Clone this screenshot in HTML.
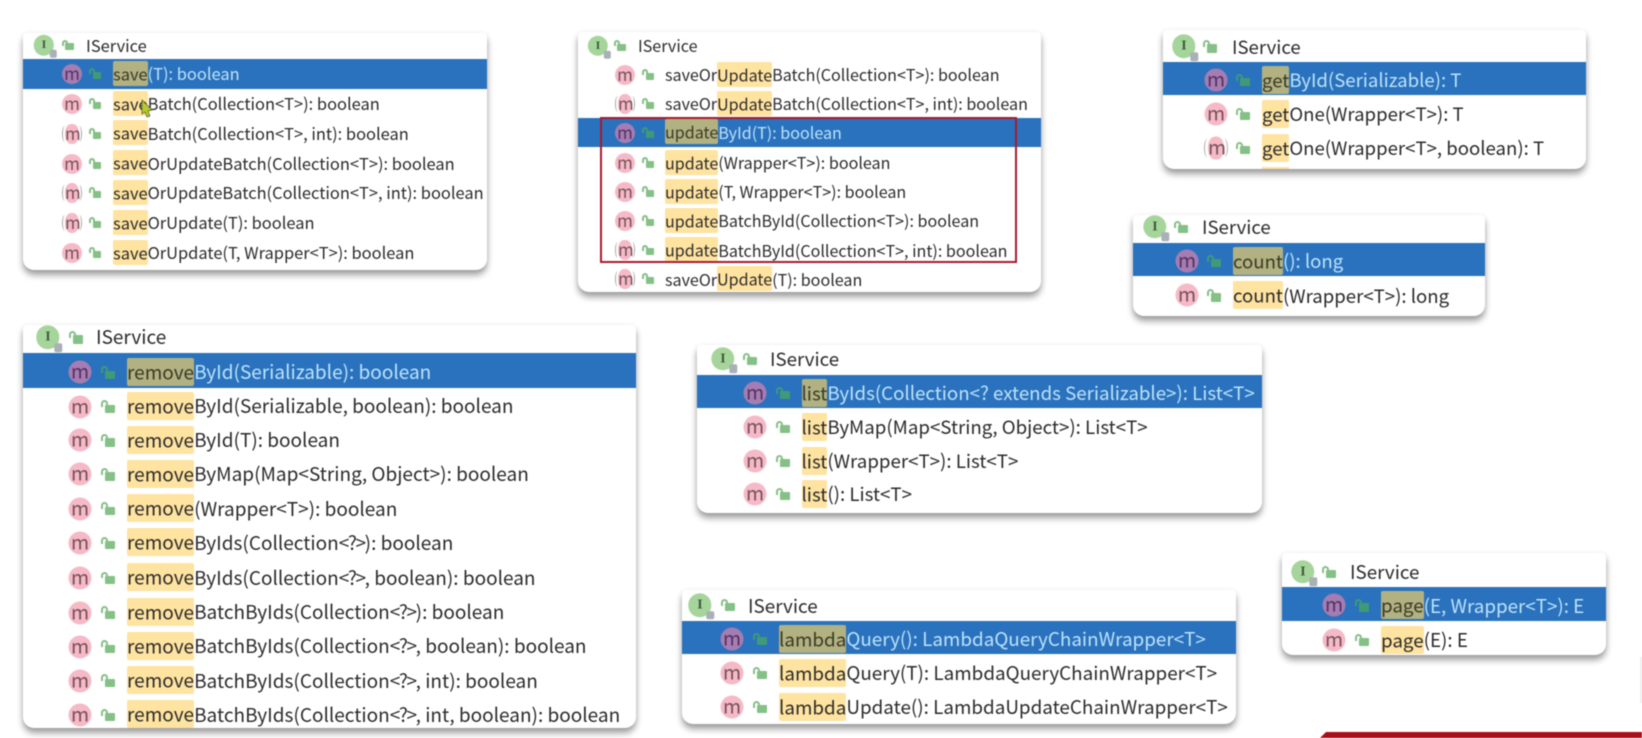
<!DOCTYPE html>
<html><head><meta charset="utf-8"><style>
html,body{margin:0;padding:0;width:1642px;height:738px;overflow:hidden;background:#fff}
body{position:relative;font-family:"Noto Sans CJK SC","Liberation Sans",sans-serif;color:#2b2b2b;filter:blur(.45px)}
.p{position:absolute;background:#fff;overflow:hidden;border-radius:4px 4px 11px 11px;box-shadow:0 5px 7px rgba(0,0,0,.38),0 0 5px rgba(0,0,0,.05);--o:0px}
.r{position:absolute;left:0;right:0;height:var(--h);line-height:var(--h);margin-top:calc(var(--h)/-2);white-space:nowrap}
.s{background:#2a72bd;color:#bde2fa}
.s b{background:#b1b181;color:#3a3a28}
.s .t{top:var(--o)}
.s .m,.s .l{margin-top:var(--o)}
.s .l{margin-top:calc(var(--o) - 2px)}
b{font-weight:400;background:#ffe3a0;border-radius:2px;padding:.5px 0}
em{font-style:normal;letter-spacing:-1.4px}
.t{position:absolute;left:var(--t)}
.ht{position:absolute;left:var(--ht)}
.m{position:absolute;left:var(--m);top:50%;width:var(--d);height:var(--d);transform:translate(-50%,-50%);border-radius:50%;background:#f6b9c7;color:#74525a;font-style:normal;font-size:calc(var(--d)*.85);line-height:calc(var(--d)*.88);text-align:center}
.s .m{background:#a57db3;color:#54325f}
.a{background:#f6b9c7;width:calc(var(--d)*.7);border-radius:45%}
.a:before,.a:after{content:"";position:absolute;top:calc(var(--d)*.1);height:calc(var(--d)*.8);width:calc(var(--d)*.34);box-sizing:border-box;border-radius:50%}
.a:before{left:calc(var(--d)*-.17);border-left:1.5px solid #a8a8a8}
.a:after{right:calc(var(--d)*-.17);border-right:1.5px solid #a8a8a8}
.l,.hl{position:absolute;top:50%;margin-top:-2px;width:calc(var(--d)*.44);height:calc(var(--d)*.36);background:#85c086;border-radius:1px}
.l{left:var(--l);margin-left:-2.5px}
.hl{left:var(--hl);margin-left:-3px}
.l:after,.hl:after{content:"";position:absolute;left:calc(var(--d)*-.16);top:calc(var(--d)*-.19);width:calc(var(--d)*.3);height:calc(var(--d)*.3);border:2px solid #85c086;border-bottom:0;border-radius:5px 5px 0 0;box-sizing:border-box;background:none}
.s .l{background:#3f9a76}
.s .l:after{border-color:#3f9a76}
.I{position:absolute;left:var(--i);top:50%;width:calc(var(--d)*1.02);height:calc(var(--d)*1.02);transform:translate(-50%,-50%);border-radius:50%;background:#a6d59c;color:#3f5a3a;font:700 calc(var(--d)*.6)/calc(var(--d)*.95) "Liberation Serif",serif;text-align:center}
.I:after{content:"";position:absolute;right:calc(var(--d)*-.12);bottom:calc(var(--d)*-.12);width:calc(var(--d)*.34);height:calc(var(--d)*.38);background:#a9b1b6;border-radius:2px}
</style></head><body>

<div class="p" style="left:23px;top:33px;width:464px;height:237px;font-size:16.45px;--h:29.6px;--d:20px;--i:21px;--hl:45px;--ht:63px;--m:49px;--l:72px;--t:90px">
<div class="r" style="top:12.3px"><i class="I">I</i><i class="hl"></i><span class="ht">IService</span></div>
<div class="r s" style="top:41px"><i class="m">m</i><i class="l"></i><span class="t"><b>save</b>(T): boolean</span></div>
<div class="r" style="top:71.2px"><i class="m">m</i><i class="l"></i><span class="t"><b>save</b>Batch(Collection&lt;T&gt;): boolean</span></div>
<div class="r" style="top:100.7px"><i class="m a">m</i><i class="l"></i><span class="t"><b>save</b>Batch(Collection&lt;T&gt;, int): boolean</span></div>
<div class="r" style="top:130.7px"><i class="m">m</i><i class="l"></i><span class="t"><b>save</b>OrUpdateBatch(Collection&lt;T&gt;): boolean</span></div>
<div class="r" style="top:160.2px"><i class="m a">m</i><i class="l"></i><span class="t"><b>save</b>OrUpdateBatch(Collection&lt;T&gt;, int): boolean</span></div>
<div class="r" style="top:189.9px"><i class="m a">m</i><i class="l"></i><span class="t"><b>save</b>OrUpdate(T): boolean</span></div>
<div class="r" style="top:220px"><i class="m">m</i><i class="l"></i><span class="t"><b>save</b>OrUpdate(T, Wrapper&lt;T&gt;): boolean</span></div>
</div>

<div class="p" style="left:578px;top:32px;width:463px;height:260px;font-size:16.1px;--h:29.2px;--d:20px;--i:20px;--hl:42px;--ht:60px;--m:47px;--l:70px;--t:87px">
<div class="r" style="top:14px"><i class="I">I</i><i class="hl"></i><span class="ht">IService</span></div>
<div class="r" style="top:43px"><i class="m">m</i><i class="l"></i><span class="t">saveOr<b>Update</b>Batch(Collection&lt;T&gt;): boolean</span></div>
<div class="r" style="top:72px"><i class="m a">m</i><i class="l"></i><span class="t">saveOr<b>Update</b>Batch(Collection&lt;T&gt;, int): boolean</span></div>
<div class="r s" style="top:100.5px"><i class="m">m</i><i class="l"></i><span class="t"><b>update</b>ById(T): boolean</span></div>
<div class="r" style="top:131px"><i class="m">m</i><i class="l"></i><span class="t"><b>update</b>(Wrapper&lt;T&gt;): boolean</span></div>
<div class="r" style="top:160px"><i class="m">m</i><i class="l"></i><span class="t"><b>update</b>(T, Wrapper&lt;T&gt;): boolean</span></div>
<div class="r" style="top:189px"><i class="m">m</i><i class="l"></i><span class="t"><b>update</b>BatchById(Collection&lt;T&gt;): boolean</span></div>
<div class="r" style="top:218.3px"><i class="m a">m</i><i class="l"></i><span class="t"><b>update</b>BatchById(Collection&lt;T&gt;, int): boolean</span></div>
<div class="r" style="top:247.2px"><i class="m a">m</i><i class="l"></i><span class="t">saveOr<b>Update</b>(T): boolean</span></div>
</div>
<div style="position:absolute;left:600px;top:117px;width:417px;height:145.5px;box-sizing:border-box;border:2px solid #a81a2e"></div>

<div class="p" style="left:1163px;top:30px;width:423px;height:139px;font-size:18.6px;--h:33.4px;--d:23px;--o:1.4px;--i:21px;--hl:47px;--ht:69px;--m:53px;--l:79px;--t:99px">
<div class="r" style="top:16.3px"><i class="I">I</i><i class="hl"></i><span class="ht">IService</span></div>
<div class="r s" style="top:48.6px"><i class="m">m</i><i class="l"></i><span class="t"><b>get</b>ById(Serializable): T</span></div>
<div class="r" style="top:84px"><i class="m">m</i><i class="l"></i><span class="t"><b>get</b>One(Wrapper&lt;T&gt;): T</span></div>
<div class="r" style="top:118px"><i class="m a">m</i><i class="l"></i><span class="t"><b>get</b>One(Wrapper&lt;T&gt;, boolean): T</span></div>
<div style="position:absolute;left:99px;top:137px;width:27px;height:3px;background:#ffe3a0"></div>
</div>

<div class="p" style="left:1133px;top:215px;width:352px;height:101px;font-size:18.6px;--h:33.4px;--d:23px;--o:1.4px;--i:22px;--hl:48px;--ht:69px;--m:54px;--l:80px;--t:100px">
<div class="r" style="top:12px"><i class="I">I</i><i class="hl"></i><span class="ht">IService</span></div>
<div class="r s" style="top:44.7px"><i class="m">m</i><i class="l"></i><span class="t"><b>count</b>(): long</span></div>
<div class="r" style="top:80.4px"><i class="m">m</i><i class="l"></i><span class="t"><b>count</b>(Wrapper&lt;T&gt;): long</span></div>
</div>

<div class="p" style="left:23px;top:325px;width:613px;height:403px;font-size:19px;--h:34.6px;--d:23px;--o:1.8px;--i:25px;--hl:53px;--ht:73px;--m:57px;--l:84px;--t:104px">
<div class="r" style="top:12.3px"><i class="I">I</i><i class="hl"></i><span class="ht">IService</span></div>
<div class="r s" style="top:45.7px"><i class="m">m</i><i class="l"></i><span class="t"><b>remove</b>ById(Serializable): boolean</span></div>
<div class="r" style="top:81.6px"><i class="m">m</i><i class="l"></i><span class="t"><b>remove</b>ById(Serializable, boolean): boolean</span></div>
<div class="r" style="top:115.3px"><i class="m">m</i><i class="l"></i><span class="t"><b>remove</b>ById(T): boolean</span></div>
<div class="r" style="top:149.3px"><i class="m">m</i><i class="l"></i><span class="t"><b>remove</b>ByMap(Map&lt;String, Object&gt;): boolean</span></div>
<div class="r" style="top:183.8px"><i class="m">m</i><i class="l"></i><span class="t"><b>remove</b>(Wrapper&lt;T&gt;): boolean</span></div>
<div class="r" style="top:218.2px"><i class="m">m</i><i class="l"></i><span class="t"><b>remove</b>ByIds(Collection<em>&lt;?&gt;</em>): boolean</span></div>
<div class="r" style="top:252.9px"><i class="m">m</i><i class="l"></i><span class="t"><b>remove</b>ByIds(Collection<em>&lt;?&gt;</em>, boolean): boolean</span></div>
<div class="r" style="top:287.6px"><i class="m">m</i><i class="l"></i><span class="t"><b>remove</b>BatchByIds(Collection<em>&lt;?&gt;</em>): boolean</span></div>
<div class="r" style="top:321.5px"><i class="m">m</i><i class="l"></i><span class="t"><b>remove</b>BatchByIds(Collection<em>&lt;?&gt;</em>, boolean): boolean</span></div>
<div class="r" style="top:355.8px"><i class="m">m</i><i class="l"></i><span class="t"><b>remove</b>BatchByIds(Collection<em>&lt;?&gt;</em>, int): boolean</span></div>
<div class="r" style="top:390px"><i class="m">m</i><i class="l"></i><span class="t"><b>remove</b>BatchByIds(Collection<em>&lt;?&gt;</em>, int, boolean): boolean</span></div>
</div>

<div class="p" style="left:696.5px;top:345px;width:565.5px;height:168px;font-size:18.7px;--h:33.4px;--d:23px;--o:1.4px;--i:26.5px;--hl:53.5px;--ht:73.5px;--m:58.5px;--l:85.5px;--t:105px">
<div class="r" style="top:14px"><i class="I">I</i><i class="hl"></i><span class="ht">IService</span></div>
<div class="r s" style="top:46.7px"><i class="m">m</i><i class="l"></i><span class="t"><b>list</b>ByIds(Collection&lt;? extends Serializable&gt;): List&lt;T&gt;</span></div>
<div class="r" style="top:82px"><i class="m">m</i><i class="l"></i><span class="t"><b>list</b>ByMap(Map&lt;String, Object&gt;): List&lt;T&gt;</span></div>
<div class="r" style="top:116px"><i class="m">m</i><i class="l"></i><span class="t"><b>list</b>(Wrapper&lt;T&gt;): List&lt;T&gt;</span></div>
<div class="r" style="top:149px"><i class="m">m</i><i class="l"></i><span class="t"><b>list</b>(): List&lt;T&gt;</span></div>
</div>

<div class="p" style="left:682px;top:590px;width:554px;height:134px;font-size:18.85px;--h:33.4px;--d:23px;--o:1.4px;--i:18px;--hl:45.6px;--ht:66px;--m:50px;--l:77px;--t:97px">
<div class="r" style="top:15.2px"><i class="I">I</i><i class="hl"></i><span class="ht">IService</span></div>
<div class="r s" style="top:47.7px"><i class="m">m</i><i class="l"></i><span class="t"><b>lambda</b>Query(): LambdaQueryChainWrapper&lt;T&gt;</span></div>
<div class="r" style="top:83px"><i class="m">m</i><i class="l"></i><span class="t"><b>lambda</b>Query(T): LambdaQueryChainWrapper&lt;T&gt;</span></div>
<div class="r" style="top:117px"><i class="m">m</i><i class="l"></i><span class="t"><b>lambda</b>Update(): LambdaUpdateChainWrapper&lt;T&gt;</span></div>
</div>

<div class="p" style="left:1282px;top:553px;width:324px;height:102px;font-size:18.8px;--h:33.8px;--d:23px;--o:1.4px;--i:21px;--hl:47px;--ht:68px;--m:52px;--l:79px;--t:99px">
<div class="r" style="top:19px"><i class="I">I</i><i class="hl"></i><span class="ht">IService</span></div>
<div class="r s" style="top:51px"><i class="m">m</i><i class="l"></i><span class="t"><b>page</b>(E, Wrapper&lt;T&gt;): E</span></div>
<div class="r" style="top:87px"><i class="m">m</i><i class="l"></i><span class="t"><b>page</b>(E): E</span></div>
</div>

<svg style="position:absolute;left:0;top:0" width="1642" height="738" viewBox="0 0 1642 738">
<polygon points="142,100 142,114 145,112 147,117 150,116 148,111 152,110" fill="#b7c92e" stroke="#4a5a20" stroke-width=".7"/>
<polygon points="1320,738 1326,732 1642,732 1642,738" fill="#a80f18"/>
<rect x="1640" y="657" width="2" height="46" fill="#eee"/>
</svg>
</body></html>
